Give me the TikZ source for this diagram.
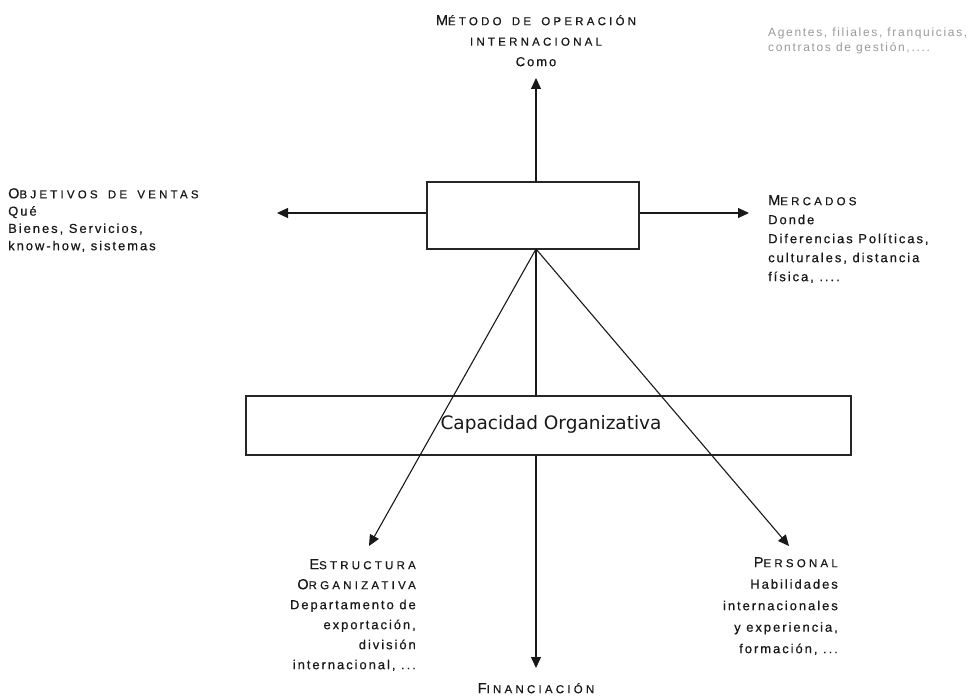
\documentclass[tikz,border=0pt]{standalone}
\usepackage{fontspec}
\setmainfont{Liberation Sans}
\newfontfamily\lbfont[LetterSpace=15,FakeBold=0.6]{Liberation Sans}
\newfontfamily\scfont[LetterSpace=28,WordSpace=1.6,FakeBold=0.6]{Liberation Sans}
\newfontfamily\capfont{DejaVu Sans}
\newfontfamily\notefont[LetterSpace=14]{Liberation Sans}
\usetikzlibrary{arrows.meta}

% fake small caps: large initial, smaller capitals after it
\newcommand\smcap[2]{{\scfont\fontsize{14.5}{14.5}\selectfont #1}{\scfont\fontsize{11.5}{11.5}\selectfont #2}}

\tikzset{
  box/.style={draw=black!85, line width=1.5pt, fill=white, inner sep=0pt},
  conn/.style={draw=black!90, line width=1.1pt},
  arr/.style={conn, -{Triangle[length=11pt,width=10pt]}},
  txt/.style={inner sep=0pt, text=black!90},
}

\begin{document}
\begin{tikzpicture}[x=1pt,y=-1pt]
\useasboundingbox (0,0) rectangle (977,698);

% central box and its arrow ends
\node[box, minimum width=212pt, minimum height=67pt] (core) at (533,215.5) {};
\coordinate (upEnd) at (536,78);
\coordinate (leftEnd) at (277,213);
\coordinate (rightEnd) at (749,213);
\coordinate (downEnd) at (536,668);
\coordinate (estrEnd) at (369,546);
\coordinate (persEnd) at (789,546);
\coordinate (coreBot) at (536,249);
\coordinate (coreTop) at (536,182);

% vertical line behind the organisational box
\draw[arr] (coreBot) -- (downEnd);

\node[box, minimum width=605pt, minimum height=59pt] (cap) at (548.5,425.5) {};
\node[txt] (capLabel) at (551,424) {\capfont\fontsize{18.5}{20}\selectfont Capacidad Organizativa};

\draw[arr] (coreTop) -- (upEnd);
\draw[arr] (core.west |- leftEnd) -- (leftEnd);
\draw[arr] (core.east |- rightEnd) -- (rightEnd);
\draw[arr] (coreBot) -- (estrEnd);
\draw[arr] (coreBot) -- (persEnd);

% labels
\node[txt, anchor=north, align=center, font=\lbfont\fontsize{13}{20.5}\selectfont] (metodo) at (536,15)
  {\smcap{M}{ÉTODO DE OPERACIÓN}\\\smcap{}{INTERNACIONAL}\\Como};

\node[txt, anchor=north west, align=left, text=black!40, font=\notefont\fontsize{12}{15}\selectfont] (modos) at (768,28)
  {Agentes, filiales, franquicias,\\contratos de gestión,....};

\node[txt, anchor=north west, align=left, font=\lbfont\fontsize{13}{17.3}\selectfont] (objetivos) at (8,188)
  {\smcap{O}{BJETIVOS DE VENTAS}\\Qué\\Bienes, Servicios,\\know-how, sistemas};

\node[txt, anchor=north west, align=left, font=\lbfont\fontsize{13}{19}\selectfont] (mercados) at (768,195)
  {\smcap{M}{ERCADOS}\\Donde\\Diferencias Políticas,\\culturales, distancia\\física, ....};

\node[txt, anchor=north east, align=right, font=\lbfont\fontsize{13}{20}\selectfont] (estructura) at (416,559)
  {\smcap{E}{STRUCTURA}\\\smcap{O}{RGANIZATIVA}\\Departamento de\\exportación,\\división\\internacional, ...};

\node[txt, anchor=north east, align=right, font=\lbfont\fontsize{13}{21.5}\selectfont] (personal) at (838,557)
  {\smcap{P}{ERSONAL}\\Habilidades\\internacionales\\y experiencia,\\formación, ...};

\node[txt, anchor=north] (financ) at (536,683) {\smcap{F}{INANCIACIÓN}};
\end{tikzpicture}
\end{document}
